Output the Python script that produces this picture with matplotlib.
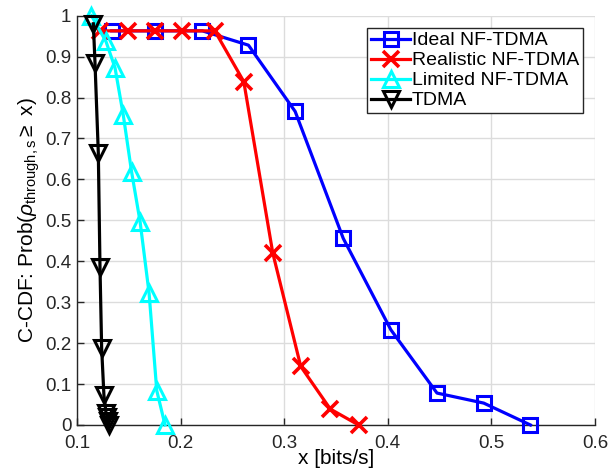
import matplotlib
matplotlib.use("Agg")
import matplotlib.pyplot as plt

plt.rcParams['font.family'] = ['Liberation Sans', 'DejaVu Sans']
plt.rcParams['mathtext.fontset'] = 'custom'
plt.rcParams['mathtext.rm'] = 'Liberation Sans'
plt.rcParams['mathtext.it'] = 'Liberation Sans:italic'

ideal_x = [0.1335, 0.175, 0.221, 0.2655, 0.3106, 0.357, 0.403, 0.4475, 0.4926, 0.5377]
ideal_y = [0.963, 0.963, 0.963, 0.928, 0.766, 0.456, 0.2325, 0.078, 0.0535, 0.0]

real_x = [0.122, 0.1496, 0.1754, 0.201, 0.233, 0.261, 0.289, 0.316, 0.3445, 0.3718]
real_y = [0.963, 0.963, 0.963, 0.963, 0.963, 0.839, 0.42, 0.143, 0.039, 0.0]

lim_x = [0.114, 0.128, 0.1367, 0.1447, 0.1528, 0.1609, 0.1696, 0.177, 0.185]
lim_y = [1.0, 0.937, 0.873, 0.757, 0.617, 0.497, 0.322, 0.084, 0.0]

tdma_x = [0.1158, 0.1174, 0.1206, 0.1222, 0.1238, 0.126, 0.128, 0.129, 0.130, 0.131]
tdma_y = [0.98, 0.884, 0.664, 0.387, 0.188, 0.073, 0.03, 0.02, 0.01, 0.0]

x_ticks = [0.1, 0.2, 0.3, 0.4, 0.5, 0.6]
x_labels = ["0.1", "0.2", "0.3", "0.4", "0.5", "0.6"]
y_ticks = [0, 0.1, 0.2, 0.3, 0.4, 0.5, 0.6, 0.7, 0.8, 0.9, 1]
y_labels = ["0", "0.1", "0.2", "0.3", "0.4", "0.5", "0.6", "0.7", "0.8", "0.9", "1"]

fig = plt.figure(figsize=(6.1, 4.73), dpi=100)
ax = fig.add_axes([0.1262, 0.1015, 0.8492, 0.8653])

lw = 2.3
ax.plot(ideal_x, ideal_y, color='#0000ff', lw=lw, marker='s', ms=10, mew=2.2,
        mfc='none', label='Ideal NF-TDMA', clip_on=False, zorder=3)
ax.plot(real_x, real_y, color='#ff0000', lw=lw, marker='x', ms=12, mew=2.6,
        label='Realistic NF-TDMA', clip_on=False, zorder=4)
ax.plot(lim_x, lim_y, color='#00ffff', lw=lw, marker='^', ms=12, mew=2.2,
        mfc='none', label='Limited NF-TDMA', clip_on=False, zorder=5)
ax.plot(tdma_x, tdma_y, color='black', lw=lw, marker='v', ms=12, mew=2.2,
        mfc='none', label='TDMA', clip_on=False, zorder=6)

ax.set_xlim(0.1, 0.6)
ax.set_ylim(0, 1)
ax.set_xticks(x_ticks)
ax.set_xticklabels(x_labels)
ax.set_yticks(y_ticks)
ax.set_yticklabels(y_labels)
ax.tick_params(direction='in', length=5, width=1, labelsize=13.5, colors='#262626',
               labelcolor='#262626')
ax.tick_params(axis='x', pad=7)
ax.tick_params(axis='y', pad=4)
ax.grid(True, color='#dcdcdc', lw=1)
ax.set_axisbelow(True)
for s in ['top', 'right']:
    ax.spines[s].set_visible(False)
for s in ['left', 'bottom']:
    ax.spines[s].set_color('#262626')
    ax.spines[s].set_linewidth(1)

ax.set_xlabel('x [bits/s]', fontsize=15, labelpad=-2)
ax.set_ylabel(r'C-CDF: Prob($\rho_{\mathrm{through,s}}\geq$ x)', fontsize=15, labelpad=2)

leg = ax.legend(loc='upper right', bbox_to_anchor=(0.977, 0.97), fontsize=14,
                frameon=True, fancybox=False, framealpha=1, edgecolor='#262626',
                handlelength=2.0, handletextpad=0.1, labelspacing=0.12,
                borderpad=0.2, borderaxespad=0)
leg.get_frame().set_linewidth(1)

fig.savefig('out.png', dpi=100)
